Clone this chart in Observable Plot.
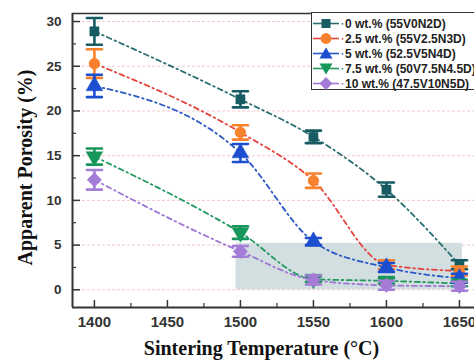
<!DOCTYPE html>
<html>
<head>
<meta charset="utf-8">
<script src="https://cdn.jsdelivr.net/npm/d3@7"></script>
<script src="https://cdn.jsdelivr.net/npm/@observablehq/plot@0.6"></script>
<style>
  html, body { margin: 0; padding: 0; background: #fff; overflow: hidden; }
  #wrap { position: relative; width: 474px; height: 361px; overflow: hidden; }
  #legend { position: absolute; left: 311px; top: 12px; width: 180px; height: 78px;
            border: 1.5px solid #333; background: #fff; box-sizing: border-box;
            font: bold 12px "Liberation Sans", Arial, sans-serif; color: #222; }
  .row { position: absolute; left: 0; height: 15px; display: flex; align-items: center; white-space: nowrap; }
  .row svg { display: block; }
</style>
</head>
<body>
<div id="wrap"><div id="legend"></div></div>
<script>
const temps = [1400, 1500, 1550, 1600, 1650];
const seriesNames = ["0 wt.% (55V0N2D)", "2.5 wt.% (55V2.5N3D)", "5 wt.% (52.5V5N4D)", "7.5 wt.% (50V7.5N4.5D)", "10 wt.% (47.5V10N5D)"];
const s0  = [28.9, 21.3, 17.1, 11.2, 2.8];
const e0  = [1.5, 0.9, 0.7, 0.8, 0.5];
const s25 = [25.3, 17.6, 12.2, 2.8, 2.1];
const e25 = [1.6, 0.8, 0.8, 0.5, 0.5];
const s5  = [22.8, 15.3, 5.4, 2.5, 1.3];
const e5  = [1.25, 1.0, 0.4, 0.5, 0.5];
const s75 = [14.9, 6.4, 1.2, 1.0, 0.7];
const e75 = [0.9, 0.7, 0.3, 0.3, 0.3];
const s10 = [12.3, 4.3, 1.1, 0.5, 0.4];
const e10 = [1.1, 0.6, 0.5, 0.5, 0.5];
const xTicks = [1400, 1450, 1500, 1550, 1600, 1650];
const xMinor = [1425, 1475, 1525, 1575, 1625];
const yTicks = [0, 5, 10, 15, 20, 25, 30];
const yMinor = [2.5, 7.5, 12.5, 17.5, 22.5, 27.5];
const shadeBox = {x1: 1497, x2: 1652, y1: 0, y2: 5.2};

const markColors = ["#175b63", "#f7812c", "#1c4fd0", "#17965a", "#a57bd8"];
const lineColors = ["#2a6e70", "#e4433e", "#2a58c6", "#23985f", "#9d76d4"];
const symbols = ["square", "circle", "triangle", "triangle", "diamond2"];
const rotations = [0, 0, 0, 180, 0];
const radii = [5.2, 5.4, 6.2, 6.2, 6.5];

const vals = [s0, s25, s5, s75, s10];
const errs = [e0, e25, e5, e75, e10];
const data = [];
vals.forEach((arr, k) => arr.forEach((v, i) => data.push({k, t: temps[i], v, e: errs[k][i]})));

const W = 474, H = 361, mL = 72, mT = 13, mB = 54, mR = 0;
const xDom = [1385, 1660.3], yDom = [-1.98, 30.9];
const capShape = {draw(ctx, l) { ctx.moveTo(0, 0); ctx.lineTo(0, -l); }};

const marks = [
  Plot.ruleY(yTicks, {stroke: "#f3c6cf", strokeDasharray: "3,2", strokeWidth: 1}),
  Plot.rect([shadeBox], {x1: "x1", x2: "x2", y1: "y1", y2: "y2", fill: "#d2dedf"}),
];
vals.forEach((arr, k) => {
  const d = data.filter(r => r.k === k);
  marks.push(Plot.line(d, {x: "t", y: "v", curve: "monotone-x", stroke: lineColors[k], strokeWidth: 1.8, strokeDasharray: "5,3.5,1.6,3.5"}));
});
vals.forEach((arr, k) => {
  const d = data.filter(r => r.k === k);
  marks.push(Plot.ruleX(d, {x: "t", y1: r => r.v - r.e, y2: r => r.v + r.e, stroke: markColors[k], strokeWidth: 2.6}));
  marks.push(Plot.vector(d, {x: "t", y: r => r.v + r.e, rotate: 90, length: 15, anchor: "middle", shape: capShape, stroke: markColors[k], strokeWidth: 2.6}));
  marks.push(Plot.vector(d, {x: "t", y: r => r.v - r.e, rotate: 90, length: 15, anchor: "middle", shape: capShape, stroke: markColors[k], strokeWidth: 2.6}));
  marks.push(Plot.dot(d, {x: "t", y: "v", symbol: () => symbols[k], rotate: rotations[k], r: radii[k], fill: markColors[k], stroke: markColors[k], strokeWidth: 0.5}));
});
marks.push(
  Plot.ruleX([xDom[0]], {stroke: "#333", strokeWidth: 2}),
  Plot.ruleY([yDom[0]], {stroke: "#333", strokeWidth: 2}),
  Plot.ruleY([yDom[1]], {stroke: "#333", strokeWidth: 1.5}),
  Plot.tickY(yTicks, {y: d => d, insetRight: W - mL - mR - 8, stroke: "#333", strokeWidth: 1.5}),
  Plot.tickY(yMinor, {y: d => d, insetRight: W - mL - mR - 4, stroke: "#333", strokeWidth: 1.2}),
  Plot.tickX(xTicks, {x: d => d, insetTop: H - mT - mB - 7, stroke: "#333", strokeWidth: 1.5}),
  Plot.tickX(xMinor, {x: d => d, insetTop: H - mT - mB - 4, stroke: "#333", strokeWidth: 1.2}),
  Plot.axisY(yTicks, {tickSize: 0, tickPadding: 11, label: null, tickFormat: d => String(d), fontSize: 13.5, fontWeight: "bold", fill: "#333", fontFamily: "Liberation Sans, Arial, sans-serif"}),
  Plot.axisX(xTicks, {tickSize: 0, tickPadding: 9, label: null, tickFormat: d => String(d), fontSize: 15, fontWeight: "bold", fill: "#333", fontFamily: "Liberation Sans, Arial, sans-serif"}),
  Plot.text(["Sintering Temperature (°C)"], {frameAnchor: "bottom", textAnchor: "middle", dx: -12, dy: 47, fontSize: 20, fontWeight: "bold", fontFamily: "Liberation Serif, Times New Roman, serif", fill: "#111"}),
  Plot.text(["Apparent Porosity (%)"], {frameAnchor: "left", textAnchor: "middle", rotate: -90, dx: -47, dy: 7, fontSize: 20, fontWeight: "bold", fontFamily: "Liberation Serif, Times New Roman, serif", fill: "#111"})
);

const chart = Plot.plot({
  width: W, height: H,
  marginLeft: mL, marginRight: mR, marginTop: mT, marginBottom: mB,
  x: {domain: xDom, axis: null},
  y: {domain: yDom, axis: null},
  style: {background: "#fff", overflow: "visible"},
  marks
});
document.getElementById("wrap").prepend(chart);

// legend
const legend = document.getElementById("legend");
const symPaths = {
  square: "M-4.5,-4.5H4.5V4.5H-4.5Z",
  circle: "M5.4,0A5.4,5.4 0 1,1 -5.4,0A5.4,5.4 0 1,1 5.4,0Z",
  triangle: "M0,-6L6.5,5H-6.5Z",
  triangleDown: "M0,6L6.5,-5H-6.5Z",
  diamond2: "M0,-6.5L6.5,0L0,6.5L-6.5,0Z"
};
const legSym = ["square", "circle", "triangle", "triangleDown", "diamond2"];
seriesNames.forEach((name, k) => {
  const row = document.createElement("div");
  row.className = "row";
  row.style.top = (3 + 15 * k) + "px";
  row.innerHTML = `<svg width="33" height="15"><line x1="1" x2="27" y1="7.5" y2="7.5" stroke="${lineColors[k]}" stroke-width="1.6"/>` +
    `<path transform="translate(14,7.5)" d="${symPaths[legSym[k]]}" fill="${markColors[k]}"/>` +
    `<circle cx="30.5" cy="7.8" r="0.9" fill="${lineColors[k]}"/></svg><span>${name}</span>`;
  legend.appendChild(row);
});
</script>
</body>
</html>
